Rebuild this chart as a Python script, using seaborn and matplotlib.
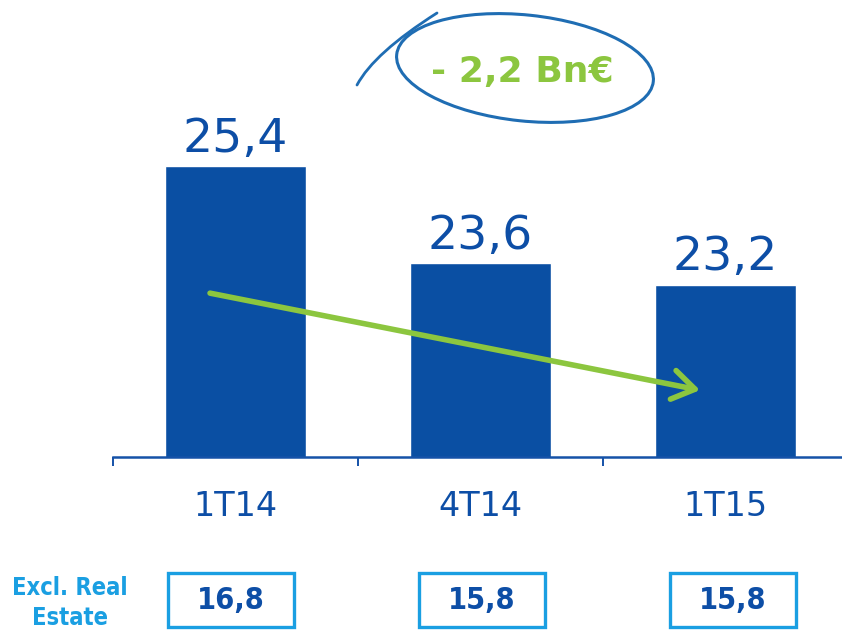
import numpy as np
import pandas as pd
import matplotlib
matplotlib.use('Agg')
import matplotlib.pyplot as plt
import seaborn as sns
from matplotlib.patches import Ellipse, Rectangle, PathPatch
from matplotlib.path import Path
from matplotlib import transforms, font_manager
from matplotlib.font_manager import FontProperties

# ---- data ----
periods = ['1T14', '4T14', '1T15']
totals = [25.4, 23.6, 23.2]
excl_real_estate = [16.8, 15.8, 15.8]
change_label = '- 2,2 Bn€'
side_label = 'Excl. Real\nEstate'


def fmt(v):
    return f'{v:.1f}'.replace('.', ',')


BAR = '#0a4fa3'
TXT = '#0d4ea6'
LIGHT = '#1a9fe2'
GREEN = '#8cc63f'
ELL = '#1f6db3'

sns.set_theme(style='white')
plt.rcParams['font.family'] = ['DejaVu Sans']

cond_bold = None
for f in font_manager.fontManager.ttflist:
    if f.fname.endswith('DejaVuSansCondensed-Bold.ttf'):
        cond_bold = f.fname
        break


def cfont(size):
    if cond_bold:
        return FontProperties(fname=cond_bold, size=size)
    return FontProperties(family='DejaVu Sans', weight='bold', stretch='condensed', size=size)


fig = plt.figure(figsize=(8.42, 6.30), dpi=100)
ax = fig.add_axes([113 / 842, 173 / 630, 735 / 842, 457 / 630])
df = pd.DataFrame({'period': periods, 'total': totals})
sns.barplot(data=df, x='period', y='total', color=BAR, saturation=1,
            width=0.576, ax=ax)
ax.set_xlim(-0.5, 2.5)
ax.set_ylim(20, 20 + 457 / 53.9)
ax.set_xlabel('')
ax.set_ylabel('')
ax.set_yticks([])
for s in ['top', 'left', 'right']:
    ax.spines[s].set_visible(False)
ax.spines['bottom'].set_color('#1552a8')
ax.spines['bottom'].set_linewidth(1.8)
ax.set_xticks([-0.5, 0.5, 1.5], minor=True)
ax.tick_params(axis='x', which='minor', length=6.5, width=1.4, color='#1552a8',
               direction='out', bottom=True)
ax.tick_params(axis='x', which='major', length=0, pad=24, labelsize=24,
               labelcolor=TXT)
ax.grid(False)

ax.bar_label(ax.containers[0], labels=[fmt(v) for v in totals], padding=3,
             fontsize=34, color=TXT)

# trend arrow
ax.annotate('', xy=(1.896, 21.24), xytext=(-0.104, 23.04),
            arrowprops=dict(arrowstyle='->,head_length=1.6,head_width=1.05',
                            mutation_scale=10, color=GREEN, lw=4,
                            shrinkA=0, shrinkB=0, capstyle='round',
                            joinstyle='round'))

# bottom boxes
trans = transforms.blended_transform_factory(ax.transData, fig.transFigure)
for i, v in enumerate(excl_real_estate):
    xc = -0.018 + 1.0245 * i
    ax.add_patch(Rectangle((xc - 0.257, 0.004), 0.514, 0.086, transform=trans,
                           fill=False, ec=LIGHT, lw=2.4, clip_on=False))
    ax.text(xc, 0.047, fmt(v), transform=trans, ha='center', va='center',
            color=TXT, fontproperties=cfont(22))
fig.text(70 / 842, 0.043, side_label, ha='center', va='center', color=LIGHT,
         fontproperties=cfont(17), linespacing=1.3)

# overlay for the highlighted change
ov = fig.add_axes([0, 0, 1, 1], facecolor='none')
ov.set_xlim(0, 842)
ov.set_ylim(630, 0)
ov.axis('off')
ov.add_patch(Ellipse((525, 68), 258, 106, angle=6, fill=False, ec=ELL, lw=2.2))
tail = Path([(437, 13), (374, 53), (357, 85)],
            [Path.MOVETO, Path.CURVE3, Path.CURVE3])
ov.add_patch(PathPatch(tail, fill=False, ec=ELL, lw=2.0, capstyle='round'))
ov.text(522, 72, change_label, ha='center', va='center', color=GREEN,
        fontsize=26, fontweight='bold')

fig.savefig('out.png', dpi=100)
